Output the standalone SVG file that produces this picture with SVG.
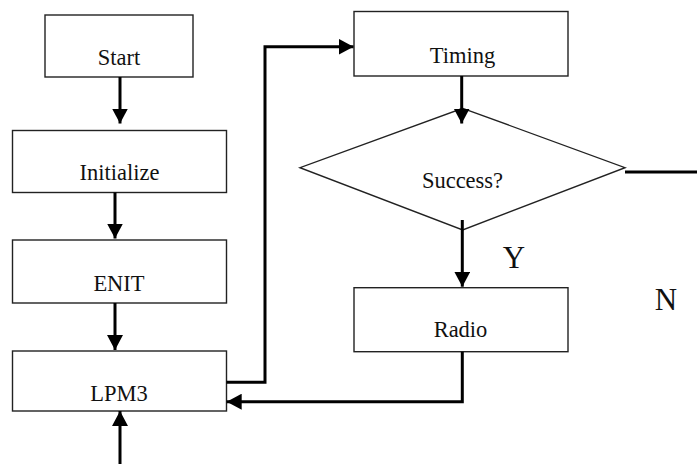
<svg xmlns="http://www.w3.org/2000/svg" width="697" height="464" viewBox="0 0 697 464">
  <style>
    .box { fill: #ffffff; stroke: #222222; stroke-width: 1.4; }
    .lbl { font-family: "Liberation Serif", "Times New Roman", serif; font-size: 22.5px; fill: #111111; text-anchor: middle; }
    .big { font-family: "Liberation Serif", "Times New Roman", serif; font-size: 31px; fill: #111111; text-anchor: middle; }
    .wire { fill: none; stroke: #000000; stroke-width: 3; }
    .arrow { marker-end: url(#head); }
  </style>
  <defs>
    <marker id="head" markerUnits="userSpaceOnUse" markerWidth="16" markerHeight="16" refX="15" refY="8" orient="auto">
      <path d="M0,0 L15,8 L0,16 z" fill="#000000"/>
    </marker>
  </defs>

  <rect width="697" height="464" fill="#ffffff"/>

  <g id="start">
    <rect class="box" x="45" y="15" width="148" height="62"/>
    <text class="lbl" x="119" y="65">Start</text>
  </g>
  <g id="initialize">
    <rect class="box" x="12.5" y="130.5" width="214" height="62"/>
    <text class="lbl" x="119.5" y="180">Initialize</text>
  </g>
  <g id="enit">
    <rect class="box" x="12.5" y="240" width="214" height="63"/>
    <text class="lbl" x="119" y="290.5">ENIT</text>
  </g>
  <g id="lpm3">
    <rect class="box" x="12.5" y="351" width="214" height="60"/>
    <text class="lbl" x="119" y="400.5">LPM3</text>
  </g>
  <g id="timing">
    <rect class="box" x="354" y="11.5" width="214" height="64.5"/>
    <text class="lbl" x="462.5" y="63">Timing</text>
  </g>
  <g id="success">
    <polygon class="box" points="462.7,108.3 625,167.7 462.7,230 300,167.7"/>
    <text class="lbl" x="462.5" y="188">Success?</text>
  </g>
  <g id="radio">
    <rect class="box" x="354" y="287.7" width="214" height="64"/>
    <text class="lbl" x="460.5" y="337">Radio</text>
  </g>
  <g id="branch-labels">
    <text class="big" x="514" y="268">Y</text>
    <text class="big" x="666" y="310">N</text>
  </g>

  <g id="connectors">
    <line class="wire arrow" x1="120" y1="77" x2="120" y2="123.5"/>
    <line class="wire arrow" x1="115" y1="192.5" x2="115" y2="238.5"/>
    <line class="wire arrow" x1="115" y1="303" x2="115" y2="350"/>
    <line class="wire arrow" x1="120" y1="464" x2="120" y2="411"/>
    <polyline class="wire arrow" points="226.5,382.3 265,382.3 265,46.7 353.5,46.7"/>
    <line class="wire arrow" x1="461.7" y1="76" x2="461.7" y2="123.5"/>
    <line class="wire arrow" x1="462.3" y1="220" x2="462.3" y2="286.7"/>
    <polyline class="wire arrow" points="462.3,351.7 462.3,401.7 226.7,401.7"/>
    <line class="wire" x1="625" y1="172" x2="697" y2="172"/>
  </g>
</svg>
